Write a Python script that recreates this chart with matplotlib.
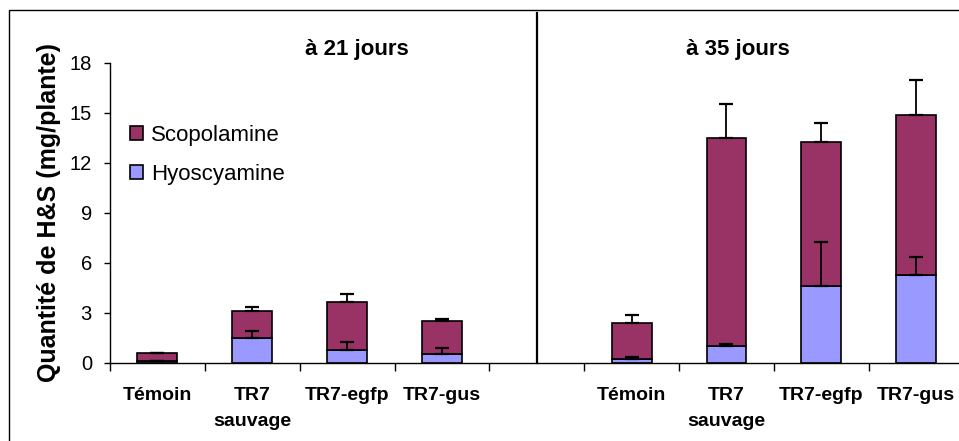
import matplotlib.pyplot as plt
from matplotlib.patches import Rectangle

plt.rcParams["font.family"] = ["Liberation Sans", "DejaVu Sans"]

# categories: 4 at 21 days, an empty slot, 4 at 35 days
labels = ["Témoin", "TR7\nsauvage", "TR7-egfp", "TR7-gus", "",
          "Témoin", "TR7\nsauvage", "TR7-egfp", "TR7-gus"]
hyoscyamine = [0.12, 1.48, 0.78, 0.54, 0, 0.22, 1.02, 4.62, 5.28]
total = [0.58, 3.12, 3.68, 2.54, 0, 2.42, 13.52, 13.26, 14.88]
hyo_err = [0.02, 0.46, 0.50, 0.38, 0, 0.12, 0.14, 2.64, 1.06]
tot_err = [0.02, 0.24, 0.46, 0.10, 0, 0.48, 2.04, 1.14, 2.08]
periods = ["à 21 jours", "à 35 jours"]

scopolamine = [t - h for t, h in zip(total, hyoscyamine)]


def main():
    fig = plt.figure(figsize=(9.59, 4.41), dpi=100)
    ax = fig.add_axes([0.1147, 0.1769, 0.89, 0.6803])

    x = list(range(len(labels)))
    shown = [i for i in x if labels[i] != ""]
    w = 0.42
    h_bars = ax.bar([x[i] for i in shown], [hyoscyamine[i] for i in shown], w,
                    color="#9999FF", edgecolor="black", linewidth=1.2,
                    label="Hyoscyamine", zorder=2)
    s_bars = ax.bar([x[i] for i in shown], [scopolamine[i] for i in shown], w,
                    bottom=[hyoscyamine[i] for i in shown],
                    color="#993366", edgecolor="black", linewidth=1.2,
                    label="Scopolamine", zorder=2)

    # upper-only error bars
    ax.errorbar([x[i] for i in shown], [hyoscyamine[i] for i in shown],
                yerr=[[0] * len(shown), [hyo_err[i] for i in shown]],
                fmt="none", ecolor="black", elinewidth=1.3, capsize=5,
                capthick=1.6, zorder=3)
    ax.errorbar([x[i] for i in shown], [total[i] for i in shown],
                yerr=[[0] * len(shown), [tot_err[i] for i in shown]],
                fmt="none", ecolor="black", elinewidth=1.3, capsize=5,
                capthick=1.6, zorder=3)

    ax.set_xlim(-0.5, len(labels) - 0.5)
    ax.set_ylim(0, 18)
    ax.set_yticks(range(0, 19, 3))
    ax.set_xticks(x)
    ax.set_xticklabels(labels, fontsize=14, fontweight="bold",
                       linespacing=1.7)
    ax.set_xticks([i - 0.5 for i in x], minor=True)
    ax.tick_params(axis="x", which="major", length=0, pad=17)
    ax.tick_params(axis="x", which="minor", length=6, width=1, direction="out")
    ax.tick_params(axis="y", length=4, width=1, labelsize=14.5, pad=9)

    for side in ["top", "right"]:
        ax.spines[side].set_visible(False)
    ax.spines["left"].set_linewidth(1)
    ax.spines["bottom"].set_linewidth(1)

    ax.set_ylabel("Quantité de H&S (mg/plante)", fontsize=18,
                  fontweight="bold", labelpad=6)

    # divider between the two periods
    ax.axvline(4, ymin=0, ymax=21 / 18, color="black", lw=1.6, clip_on=False)

    ax.text(2.1, 18.8, periods[0], ha="center", va="center", fontsize=16,
            fontweight="bold")
    ax.text(6.12, 18.8, periods[1], ha="center", va="center", fontsize=16,
            fontweight="bold")

    ax.legend([s_bars, h_bars], ["Scopolamine", "Hyoscyamine"],
              loc="upper left", bbox_to_anchor=(0.0, 0.86), frameon=False,
              fontsize=16, handlelength=0.6, handleheight=0.6,
              handletextpad=0.35, labelspacing=0.8)

    # outer chart frame
    fig.patches.append(Rectangle((9 / 959, -0.02), 1.02, 0.977 + 0.02,
                                 transform=fig.transFigure, fill=False,
                                 edgecolor="black", linewidth=1))

    fig.savefig("out.png", dpi=100)


if __name__ == "__main__":
    main()
